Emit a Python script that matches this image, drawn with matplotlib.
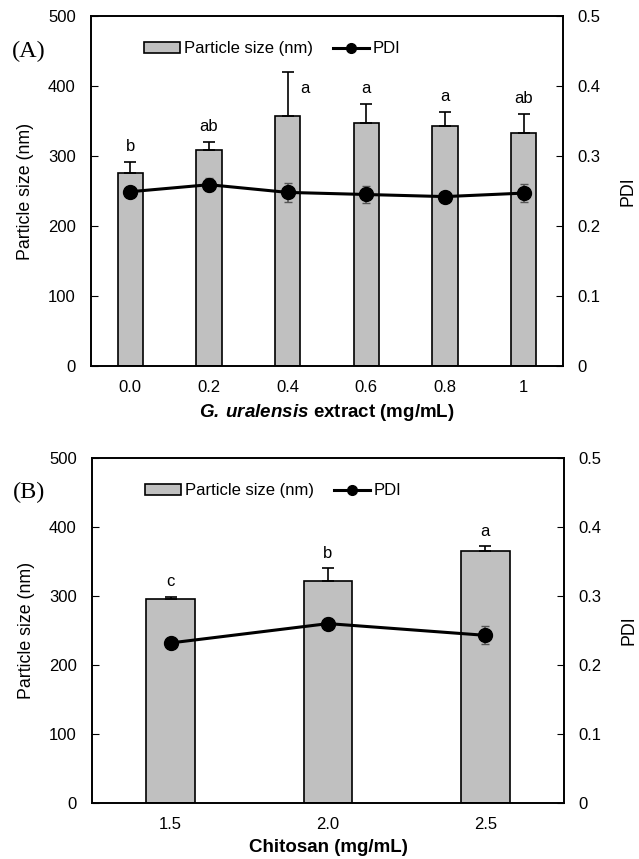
import numpy as np
import matplotlib.pyplot as plt
from matplotlib.lines import Line2D
from matplotlib.patches import Patch

plt.rcParams['font.family'] = ['Liberation Sans', 'DejaVu Sans']
plt.rcParams['font.size'] = 12
plt.rcParams['mathtext.fontset'] = 'custom'
plt.rcParams['mathtext.bfit'] = 'Liberation Sans:bold:italic'

# panel A: G. uralensis extract
ext_labels = ['0.0', '0.2', '0.4', '0.6', '0.8', '1']
ext_size = [276, 309, 357, 347, 343, 333]
ext_size_err = [16, 11, 63, 27, 20, 27]
ext_pdi = [0.249, 0.259, 0.248, 0.245, 0.242, 0.247]
ext_pdi_err = [0.005, 0.009, 0.014, 0.012, 0.005, 0.013]
ext_letters = ['b', 'ab', 'a', 'a', 'a', 'ab']

# panel B: chitosan
chi_labels = ['1.5', '2.0', '2.5']
chi_size = [295, 322, 365]
chi_size_err = [4, 18, 7]
chi_pdi = [0.232, 0.260, 0.243]
chi_pdi_err = [0.004, 0.008, 0.013]
chi_letters = ['c', 'b', 'a']


def panel(ax, labels, size, size_err, pdi, pdi_err, letters, width, xlabel, tag):
    x = np.arange(len(labels))
    ax.bar(x, size, width=width, color='#c0c0c0', edgecolor='black', linewidth=1.2, zorder=2)
    ax.errorbar(x, size, yerr=[np.zeros(len(x)), size_err], fmt='none',
                ecolor='black', elinewidth=1.2, capsize=4, capthick=1.2, zorder=3)
    for xi, s, e, t in zip(x, size, size_err, letters):
        y = s + e + 22
        if y > 420:
            ax.text(xi + 0.22, s + 39, t, ha='center', va='center')
        else:
            ax.text(xi, y, t, ha='center', va='center')

    ax.set_ylim(0, 500)
    ax.set_yticks(range(0, 501, 100))
    ax.set_xlim(-0.5, len(x) - 0.5)
    ax.set_xticks(x)
    ax.set_xticklabels(labels)
    ax.tick_params(axis='x', length=0, pad=10)
    ax.tick_params(axis='y', direction='in', length=5, pad=11)
    ax.set_ylabel('Particle size (nm)', fontsize=12.8, labelpad=10)
    ax.set_xlabel(xlabel, fontsize=13.5, fontweight='bold', labelpad=5)

    ax2 = ax.twinx()
    ax2.errorbar(x, pdi, yerr=pdi_err, fmt='none', ecolor='#555555',
                 elinewidth=1.2, capsize=3, zorder=3)
    ax2.plot(x, pdi, color='black', lw=2.2, marker='o', ms=10, zorder=4)
    ax2.set_ylim(0, 0.5)
    ax2.set_yticks([0, 0.1, 0.2, 0.3, 0.4, 0.5])
    ax2.set_yticklabels(['0', '0.1', '0.2', '0.3', '0.4', '0.5'])
    ax2.tick_params(axis='y', direction='in', length=5, pad=10)
    ax2.set_ylabel('PDI', fontsize=12.8, labelpad=14)

    for a in (ax, ax2):
        for sp in a.spines.values():
            sp.set_linewidth(1.2)

    handles = [Patch(facecolor='#c0c0c0', edgecolor='black', linewidth=1.2),
               Line2D([], [], color='black', lw=2.2, marker='o', ms=7)]
    ax.legend(handles, ['Particle size (nm)', 'PDI'], ncol=2, frameon=False,
              loc='upper left', bbox_to_anchor=(0.08, 0.97), handlelength=2.2,
              handletextpad=0.2, columnspacing=1.2)
    ax.text(-0.168, 0.9, tag, transform=ax.transAxes, fontsize=17.5,
            family='Liberation Serif', va='center')


fig = plt.figure(figsize=(6.39, 8.59), dpi=100)
axA = fig.add_axes([0.1424, 0.5739, 0.7387, 0.4075])
axB = fig.add_axes([0.1440, 0.0652, 0.7387, 0.4016])

panel(axA, ext_labels, ext_size, ext_size_err, ext_pdi, ext_pdi_err, ext_letters,
      0.32, r'$\bfit{G.\,uralensis}$ extract (mg/mL)', '(A)')
panel(axB, chi_labels, chi_size, chi_size_err, chi_pdi, chi_pdi_err, chi_letters,
      0.31, 'Chitosan (mg/mL)', '(B)')

fig.savefig('out.png', dpi=100)
